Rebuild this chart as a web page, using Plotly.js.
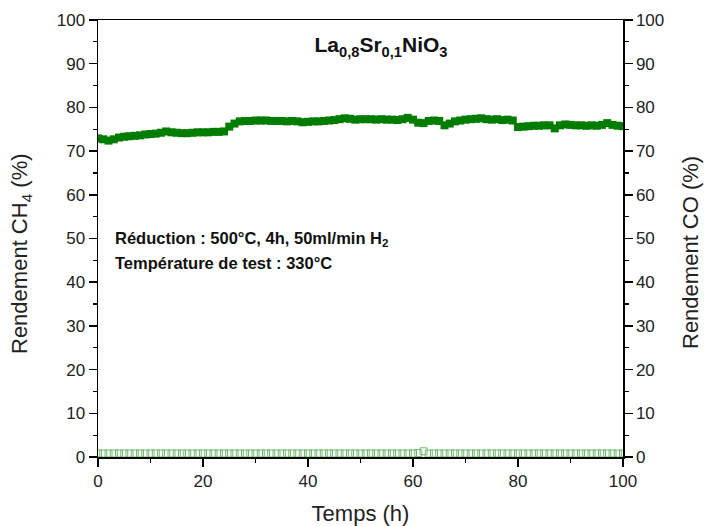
<!DOCTYPE html>
<html>
<head>
<meta charset="utf-8">
<script src="https://cdn.plot.ly/plotly-3.0.1.min.js"></script>
<style>html,body{margin:0;padding:0;background:#fff;}#chart{width:704px;height:526px;}</style>
</head>
<body>
<div id="chart"></div>
<script>
// Time (h)
const timeH = [0,1,2,3,4,5,6,7,8,9,10,11,12,13,14,15,16,17,18,19,20,21,22,23,24,25,26,27,28,29,30,31,32,33,34,35,36,37,38,39,40,41,42,43,44,45,46,47,48,49,50,51,52,53,54,55,56,57,58,59,60,61,62,63,64,65,66,67,68,69,70,71,72,73,74,75,76,77,78,79,80,81,82,83,84,85,86,87,88,89,90,91,92,93,94,95,96,97,98,99,100];
// Rendement CH4 (%)
const yieldCH4 = [72.9,72.7,72.4,72.7,73.1,73.3,73.4,73.5,73.6,73.8,73.9,74.0,74.2,74.5,74.3,74.2,74.1,74.1,74.2,74.3,74.3,74.3,74.4,74.4,74.5,75.6,76.3,76.8,76.9,76.9,77.0,77.0,77.0,76.9,76.9,76.9,76.8,76.9,76.8,76.6,76.7,76.8,76.8,76.9,77.0,77.1,77.3,77.5,77.4,77.2,77.3,77.3,77.3,77.2,77.3,77.2,77.2,77.1,77.3,77.6,77.2,76.5,76.4,76.9,77.0,76.9,75.9,76.3,76.8,77.0,77.2,77.3,77.4,77.5,77.3,77.2,77.3,77.1,77.2,77.0,75.5,75.6,75.7,75.8,75.8,75.9,75.9,75.2,75.9,76.1,76.0,75.9,75.9,75.8,75.9,75.8,76.0,76.4,76.0,75.8,75.7];
// Rendement CO (%)
const yieldCO = [0.8,0.8,0.8,0.8,0.8,0.8,0.8,0.8,0.8,0.8,0.8,0.8,0.8,0.8,0.8,0.8,0.8,0.8,0.8,0.8,0.8,0.8,0.8,0.8,0.8,0.8,0.8,0.8,0.8,0.8,0.8,0.8,0.8,0.8,0.8,0.8,0.8,0.8,0.8,0.8,0.8,0.8,0.8,0.8,0.8,0.8,0.8,0.8,0.8,0.8,0.8,0.8,0.8,0.8,0.8,0.8,0.8,0.8,0.8,0.8,0.8,0.9,1.3,0.8,0.8,0.8,0.8,0.8,0.8,0.8,0.8,0.8,0.8,0.8,0.8,0.8,0.8,0.8,0.8,0.8,0.8,0.8,0.8,0.8,0.8,0.8,0.8,0.8,0.8,0.8,0.8,0.8,0.8,0.8,0.8,0.8,0.8,0.8,0.8,0.8,0.8];
const yTicks = [0,10,20,30,40,50,60,70,80,90,100];
const xTicks = [0,20,40,60,80,100];

const FONT = 'Liberation Sans, Arial, sans-serif';
const axisCommon = {
  range: [0, 100], showgrid: false, zeroline: false, showline: true,
  linecolor: '#000', linewidth: 1.5, ticks: 'outside', ticklen: 8, tickwidth: 1.5, tickcolor: '#000',
  tickfont: {family: FONT, size: 17, color: '#222'},
  minor: {ticks: 'outside', ticklen: 4, tickwidth: 1.2, tickcolor: '#000'}
};

const traces = [
  {x: timeH, y: yieldCH4, type: 'scatter', mode: 'markers', name: 'CH4',
   marker: {symbol: 'square', size: 8, color: 'rgb(0,125,0)', line: {width: 0}}},
  {x: timeH, y: yieldCO, type: 'scatter', mode: 'markers', name: 'CO', yaxis: 'y2',
   marker: {symbol: 'square-open', size: 7, color: 'rgb(110,185,110)', line: {width: 1}}}
];

const layout = {
  width: 704, height: 526,
  margin: {l: 98, r: 81, t: 20, b: 69},
  paper_bgcolor: '#fff', plot_bgcolor: '#fff', showlegend: false,
  font: {family: FONT, color: '#222'},
  title: {text: '<b>La<sub>0,8</sub>Sr<sub>0,1</sub>NiO<sub>3</sub></b>', font: {family: FONT, size: 21, color: '#111'},
          x: 381/704, xanchor: 'center', xref: 'container', y: 1 - 45/526, yanchor: 'middle', yref: 'container'},
  xaxis: Object.assign({}, axisCommon, {tickvals: xTicks, mirror: true,
          minor: Object.assign({}, axisCommon.minor, {dtick: 10}),
          title: {text: 'Temps (h)', font: {family: FONT, size: 22, color: '#222'}, standoff: 20}}),
  yaxis: Object.assign({}, axisCommon, {tickvals: yTicks,
          minor: Object.assign({}, axisCommon.minor, {dtick: 5})}),
  yaxis2: Object.assign({}, axisCommon, {tickvals: yTicks, overlaying: 'y', side: 'right',
          minor: Object.assign({}, axisCommon.minor, {dtick: 5})}),
  annotations: [
    {text: 'Rendement CH<sub>4</sub> (%)', x: 21/704, y: 1 - 254/526, xref: 'paper', yref: 'paper',
     xanchor: 'center', yanchor: 'middle', textangle: -90, showarrow: false,
     font: {family: FONT, size: 22, color: '#222'}},
    {text: 'Rendement CO (%)', x: 691/704, y: 1 - 253/526, xref: 'paper', yref: 'paper',
     xanchor: 'center', yanchor: 'middle', textangle: -90, showarrow: false,
     font: {family: FONT, size: 22, color: '#222'}},
    {text: '<b>Réduction : 500°C, 4h, 50ml/min H<sub>2</sub></b>', x: 2.9, y: 49.8, xref: 'x', yref: 'y',
     xanchor: 'left', yanchor: 'middle', showarrow: false, font: {family: FONT, size: 16.5, color: '#111'}},
    {text: '<b>Température de test : 330°C</b>', x: 2.9, y: 44.5, xref: 'x', yref: 'y',
     xanchor: 'left', yanchor: 'middle', showarrow: false, font: {family: FONT, size: 16.5, color: '#111'}}
  ]
};

// paper-relative positions for the side titles
layout.annotations[0].x = (21 - 98) / 525;
layout.annotations[0].y = (457 - 254) / 437;
layout.annotations[1].x = (691 - 98) / 525;
layout.annotations[1].y = (457 - 253) / 437;

Plotly.newPlot('chart', traces, layout, {displayModeBar: false, staticPlot: true});
</script>
</body>
</html>
